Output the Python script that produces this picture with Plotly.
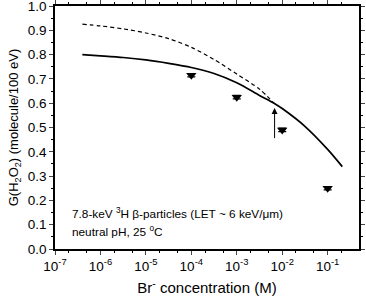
import plotly.graph_objects as go
import math

# Model curves (Br- concentration in M, G(H2O2) in molecule/100 eV)
solid_conc = [4.0e-7, 1e-6, 3.16e-6, 1e-5, 3.16e-5, 1e-4, 3.16e-4, 1e-3,
              3.16e-3, 6.6e-3, 1e-2, 3.16e-2, 1e-1, 0.21]
solid_G = [0.800, 0.795, 0.788, 0.778, 0.764, 0.747, 0.722, 0.684,
           0.632, 0.600, 0.578, 0.505, 0.410, 0.339]

dashed_conc = [4.0e-7, 1e-6, 3.16e-6, 1e-5, 3.16e-5, 1e-4, 3.16e-4, 1e-3,
               3.16e-3, 6.6e-3]
dashed_G = [0.925, 0.918, 0.906, 0.889, 0.866, 0.830, 0.780, 0.720,
            0.658, 0.600]

# Experimental points
exp_conc = [1e-4, 1e-3, 1e-2, 1e-1]
exp_G = [0.715, 0.625, 0.49, 0.25]
exp_err = [0.007, 0.007, 0.007, 0.007]

# Arrow
arrow_conc = 6.8e-3
arrow_tip_G = 0.58
arrow_tail_G = 0.45

x_ticks = [1e-7, 1e-6, 1e-5, 1e-4, 1e-3, 1e-2, 1e-1]
x_ticktext = ["10<sup>-7</sup>", "10<sup>-6</sup>", "10<sup>-5</sup>", "10<sup>-4</sup>",
              "10<sup>-3</sup>", "10<sup>-2</sup>", "10<sup>-1</sup>"]

FONT = "Liberation Sans, Arial, sans-serif"

fig = go.Figure()
fig.add_trace(go.Scatter(x=dashed_conc, y=dashed_G, mode="lines",
                         line=dict(color="black", width=1.2, dash="4px,3px",
                                   shape="spline", smoothing=0.8),
                         showlegend=False))
fig.add_trace(go.Scatter(x=solid_conc, y=solid_G, mode="lines",
                         line=dict(color="black", width=1.7, shape="spline", smoothing=0.8),
                         showlegend=False))
fig.add_trace(go.Scatter(x=exp_conc, y=exp_G, mode="markers",
                         marker=dict(symbol="triangle-down", size=9, color="black"),
                         error_y=dict(type="data", array=exp_err, color="black",
                                      thickness=1.3, width=4),
                         showlegend=False))

fig.add_annotation(x=math.log10(arrow_conc), y=arrow_tip_G,
                   ax=math.log10(arrow_conc), ay=arrow_tail_G,
                   xref="x", yref="y", axref="x", ayref="y",
                   showarrow=True, arrowhead=2, arrowsize=1.2, arrowwidth=1,
                   arrowcolor="black", text="")

fig.add_annotation(x=0.049, y=0.148, xref="paper", yref="paper",
                   xanchor="left", yanchor="middle", showarrow=False,
                   text="7.8-keV <sup>3</sup>H β-particles (LET ~ 6 keV/μm)",
                   font=dict(size=11.8, family=FONT, color="black"))
fig.add_annotation(x=0.049, y=0.074, xref="paper", yref="paper",
                   xanchor="left", yanchor="middle", showarrow=False,
                   text="neutral pH, 25 <sup>o</sup>C",
                   font=dict(size=11.8, family=FONT, color="black"))

fig.update_layout(
    width=366, height=297,
    margin=dict(l=55, r=7, t=6, b=48),
    plot_bgcolor="white", paper_bgcolor="white",
    font=dict(family=FONT, color="black", size=13),
    xaxis=dict(type="log", range=[-7, -0.31], automargin=False,
               tickvals=x_ticks, ticktext=x_ticktext,
               ticks="outside", ticklen=4, tickwidth=1.2,
               showline=True, linecolor="black", linewidth=1.5,
               mirror="ticks", showgrid=False, zeroline=False,
               ticklabeloverflow="allow",
               minor=dict(ticks="outside", ticklen=2, tickwidth=1, tickcolor="black",
                          showgrid=False),
               tickfont=dict(size=13.5),
               title=dict(text="Br<sup>-</sup> concentration (M)", font=dict(size=15), standoff=10)),
    yaxis=dict(range=[0, 1], dtick=0.1, tickformat=".1f", automargin=False,
               ticks="outside", ticklen=4, tickwidth=1.2,
               showline=True, linecolor="black", linewidth=1.5,
               mirror="ticks", showgrid=False, zeroline=False,
               ticklabeloverflow="allow",
               minor=dict(dtick=0.05, ticks="outside", ticklen=2, tickwidth=1,
                          tickcolor="black", showgrid=False),
               tickfont=dict(size=13.5),
               title=dict(text="G(H<sub>2</sub>O<sub>2</sub>) (molecule/100 eV)",
                          font=dict(size=13), standoff=6)),
)

fig.write_html("out.html", config={"displayModeBar": False},
               post_script="document.body.style.margin='0';")
